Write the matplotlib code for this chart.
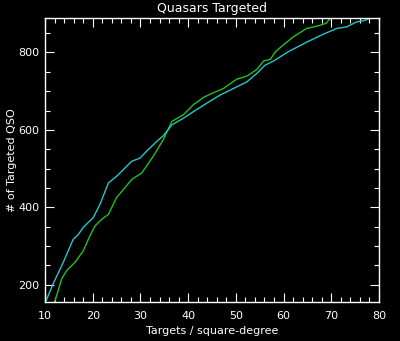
import matplotlib
matplotlib.use("Agg")
import matplotlib.pyplot as plt
from matplotlib.ticker import MultipleLocator

# Cyan series
cyan_x = [10.0, 10.2, 11.7, 13.8, 15.9, 17.0, 18.0, 20.1, 21.5, 23.3, 25.0, 28.2, 29.9,
          31.3, 33.4, 34.8, 36.6, 39.0, 41.1, 43.9, 46.7, 49.5, 52.3, 54.4, 56.1,
          57.9, 61.0, 64.9, 68.3, 71.1, 73.2, 75.3, 77.1, 78.1, 80.0]
cyan_y = [156, 158, 202, 257, 317, 330, 348, 373, 407, 463, 480, 519, 527,
          545, 570, 585, 613, 630, 647, 669, 690, 707, 724, 746, 767,
          778, 802, 827, 847, 862, 866, 879, 883, 889, 889]

# Green series
green_x = [12.0, 12.1, 13.5, 14.5, 16.3, 18.0, 19.4, 20.5, 21.9, 23.3, 25.0, 28.2, 30.3,
           32.7, 34.8, 36.6, 39.0, 41.1, 43.2, 45.3, 47.4, 50.2, 52.3, 54.4, 55.8,
           57.2, 58.3, 59.9, 62.0, 64.8, 67.6, 69.0, 69.4, 69.9]
green_y = [156, 158, 215, 236, 258, 287, 326, 352, 369, 382, 425, 472, 489,
           532, 575, 622, 639, 665, 684, 696, 707, 731, 739, 756, 778,
           782, 802, 819, 840, 862, 870, 876, 883, 889]

title = "Quasars Targeted"
xlabel = "Targets / square-degree"
ylabel = "# of Targeted QSO"

fig = plt.figure(figsize=(4.0, 3.41), dpi=100, facecolor="black")
ax = fig.add_axes([0.1125, 0.1153, 0.835, 0.8318], facecolor="black")

ax.plot(green_x, green_y, color="#22c022", lw=1.0)
ax.plot(cyan_x, cyan_y, color="#22c8c8", lw=1.0)

ax.set_xlim(10, 80)
ax.set_ylim(156, 889)
ax.xaxis.set_major_locator(MultipleLocator(10))
ax.xaxis.set_minor_locator(MultipleLocator(2))
ax.yaxis.set_major_locator(MultipleLocator(200))
ax.yaxis.set_minor_locator(MultipleLocator(50))

for s in ax.spines.values():
    s.set_color("white")
    s.set_linewidth(1.0)

ax.tick_params(which="both", direction="in", colors="white", top=True, right=True,
               labelsize=8, width=0.8)
ax.tick_params(which="major", length=6.5)
ax.tick_params(axis="x", which="major", pad=7)
ax.tick_params(axis="y", which="major", pad=4)
ax.tick_params(which="minor", length=3.5)

ax.set_title(title, color="white", fontsize=9, pad=4)
ax.set_xlabel(xlabel, color="white", fontsize=8, labelpad=3)
ax.set_ylabel(ylabel, color="white", fontsize=8, labelpad=1)

fig.savefig("out.png", dpi=100, facecolor="black")
